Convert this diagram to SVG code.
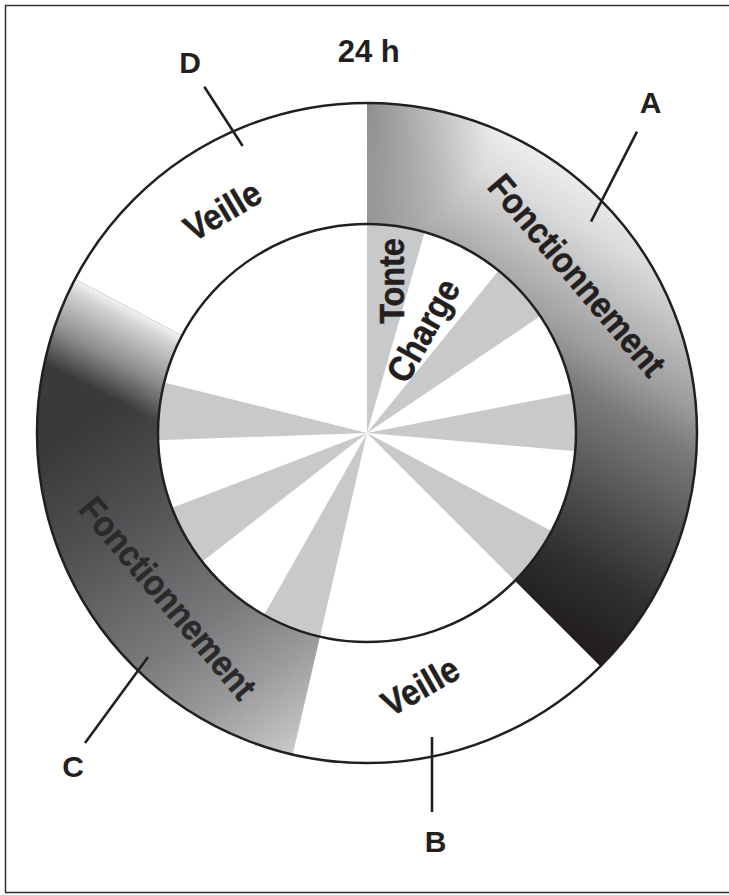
<svg xmlns="http://www.w3.org/2000/svg" width="729" height="895" viewBox="0 0 729 895">
  <defs>
    <style>
      .lbl { font-family: "Liberation Sans", Arial, Helvetica, sans-serif; font-weight: bold; fill: #231f20; text-anchor: middle; }
      .big { font-size: 30px; }
      .band { font-size: 36px; stroke: #231f20; stroke-width: 0.5; }
      .wedge { fill: #c8c9cb; stroke: none; }
      .ring { fill: none; stroke: #231f20; stroke-width: 2.5; }
      .leader { stroke: #231f20; stroke-width: 2.6; fill: none; }
    </style>
    <linearGradient id="gA" gradientUnits="userSpaceOnUse" x1="610" y1="190" x2="410" y2="536.4">
      <stop offset="0" stop-color="#eeeeee"/>
      <stop offset="0.12" stop-color="#dadada"/>
      <stop offset="0.25" stop-color="#b9b9b9"/>
      <stop offset="0.37" stop-color="#9c9c9c"/>
      <stop offset="0.47" stop-color="#7a7a7c"/>
      <stop offset="0.7" stop-color="#4c4c4e"/>
      <stop offset="0.85" stop-color="#303031"/>
      <stop offset="1" stop-color="#231f20"/>
    </linearGradient>
    <radialGradient id="gAdark" gradientUnits="userSpaceOnUse" cx="367" cy="105" r="130">
      <stop offset="0" stop-color="#000" stop-opacity="0.35"/>
      <stop offset="1" stop-color="#000" stop-opacity="0"/>
    </radialGradient>
    <linearGradient id="gC" gradientUnits="userSpaceOnUse" x1="80" y1="430" x2="295" y2="750">
      <stop offset="0" stop-color="#3a3a3c"/>
      <stop offset="0.25" stop-color="#505052"/>
      <stop offset="0.6" stop-color="#7a7a7c"/>
      <stop offset="0.8" stop-color="#9c9c9e"/>
      <stop offset="1" stop-color="#c8c8ca"/>
    </linearGradient>
    <linearGradient id="gCfade" gradientUnits="userSpaceOnUse" x1="129" y1="306" x2="87.1" y2="385.7">
      <stop offset="0" stop-color="#fff" stop-opacity="0.95"/>
      <stop offset="0.15" stop-color="#fff" stop-opacity="0.78"/>
      <stop offset="0.6" stop-color="#fff" stop-opacity="0.42"/>
      <stop offset="0.9" stop-color="#fff" stop-opacity="0.1"/>
      <stop offset="1" stop-color="#fff" stop-opacity="0"/>
    </linearGradient>
  </defs>

  <rect x="0" y="0" width="729" height="895" fill="#ffffff"/>
  <rect id="frame" x="5.5" y="5.5" width="740" height="887" fill="none" stroke="#333333" stroke-width="1.5"/>

  <g id="wedges">
    <path class="wedge" d="M367 433 L367 223 A210 210 0 0 1 424.9 231.1 Z"/>
    <path class="wedge" d="M367 433 L499.2 269.8 A210 210 0 0 1 541.1 315.6 Z"/>
    <path class="wedge" d="M367 433 L573.1 392.9 A210 210 0 0 1 576.2 451.3 Z"/>
    <path class="wedge" d="M367 433 L552.4 531.6 A210 210 0 0 1 515.5 581.5 Z"/>
    <path class="wedge" d="M367 433 L319.8 637.6 A210 210 0 0 1 263.6 615.8 Z"/>
    <path class="wedge" d="M367 433 L201.5 562.3 A210 210 0 0 1 171.0 508.3 Z"/>
    <path class="wedge" d="M367 433 L157.1 440.3 A210 210 0 0 1 163.2 382.2 Z"/>
  </g>

  <g id="band-A">
    <path d="M367 103 A330 330 0 0 1 600.3 666.3 L514.8 580.8 A209 209 0 0 0 367 224 Z" fill="url(#gA)"/>
    <path d="M367 103 A330 330 0 0 1 600.3 666.3 L514.8 580.8 A209 209 0 0 0 367 224 Z" fill="url(#gAdark)"/>
  </g>
  <g id="band-C">
    <path d="M292.75 754.6 A330 330 0 0 1 75.1 279.1 L182.1 335.5 A209 209 0 0 0 320 636.6 Z" fill="url(#gC)"/>
    <path d="M292.75 754.6 A330 330 0 0 1 75.1 279.1 L182.1 335.5 A209 209 0 0 0 320 636.6 Z" fill="url(#gCfade)"/>
  </g>

  <g id="circles">
    <circle class="ring" cx="367" cy="433" r="330"/>
    <circle class="ring" cx="367" cy="433" r="209"/>
  </g>

  <g id="connectors">
    <line class="leader" x1="204.3" y1="86.7" x2="242.7" y2="146"/>
    <line class="leader" x1="637" y1="131.7" x2="591" y2="221.7"/>
    <line class="leader" x1="85" y1="743" x2="148" y2="657"/>
    <line class="leader" x1="432" y1="737" x2="432" y2="812"/>
  </g>

  <g id="title"><text class="lbl" x="368.7" y="62.3" style="font-size:31px">24 h</text></g>
  <g id="label-D"><text class="lbl big" x="190" y="73.3">D</text></g>
  <g id="label-A"><text class="lbl big" x="650.5" y="113">A</text></g>
  <g id="label-C"><text class="lbl big" x="73" y="777">C</text></g>
  <g id="label-B"><text class="lbl big" x="435.5" y="852">B</text></g>

  <g id="veille-D"><text class="lbl band" transform="translate(228.8,221.5) rotate(-30.6) scale(0.9,1)">Veille</text></g>
  <g id="fonctionnement-A"><text class="lbl band" transform="translate(567.5,283.2) rotate(49.7) scale(0.9,1)">Fonctionnement</text></g>
  <g id="fonctionnement-C"><text class="lbl band" style="fill:#2a2a2b;stroke:#2a2a2b" transform="translate(158.5,606) rotate(49.8) scale(0.9,1)">Fonctionnement</text></g>
  <g id="veille-B"><text class="lbl band" transform="translate(426.5,697) rotate(-29.7) scale(0.9,1)">Veille</text></g>
  <g id="tonte"><text class="lbl band" transform="translate(404,281) rotate(-90) scale(0.9,1)">Tonte</text></g>
  <g id="charge"><text class="lbl band" transform="translate(434,336.5) rotate(-60.8) scale(0.9,1)">Charge</text></g>
</svg>
